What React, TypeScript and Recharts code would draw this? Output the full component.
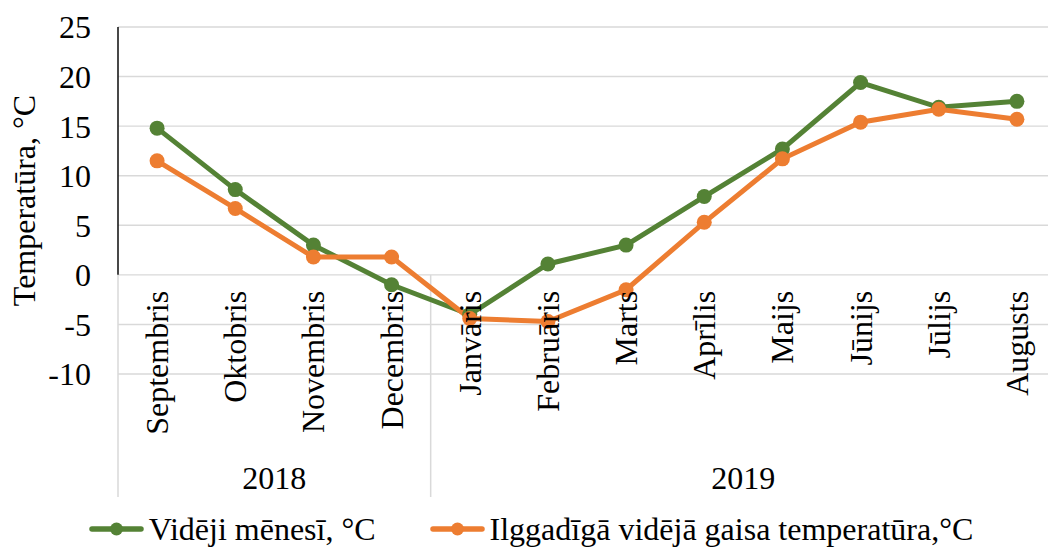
import React from 'react';
import { LineChart, Line, XAxis, YAxis, CartesianGrid } from 'recharts';

const months = [
  'Septembris', 'Oktobris', 'Novembris', 'Decembris', 'Janvāris', 'Februāris',
  'Marts', 'Aprīlis', 'Maijs', 'Jūnijs', 'Jūlijs', 'Augusts',
];
const monthlyAvg = [14.8, 8.6, 3.0, -1.0, -4.0, 1.1, 3.0, 7.9, 12.7, 19.4, 16.9, 17.5];
const longTermAvg = [11.5, 6.7, 1.8, 1.8, -4.4, -4.7, -1.5, 5.3, 11.7, 15.4, 16.7, 15.7];
const years = [
  { label: '2018', count: 4 },
  { label: '2019', count: 8 },
];
const yTicks = [-10, -5, 0, 5, 10, 15, 20, 25];

const seriesNames = ['Vidēji mēnesī, °C', 'Ilggadīgā vidējā gaisa temperatūra,°C'];
const yTitle = 'Temperatūra, °C';

const data = months.map((m, i) => ({ month: m, avg: monthlyAvg[i], norm: longTermAvg[i] }));

const FONT = '"Liberation Serif", "Times New Roman", serif';
const FS = 32;
const GREEN = '#548235';
const ORANGE = '#ED7D31';
const GRID = '#d9d9d9';

const W = 1060;
const H = 547;
const TOP = 27;
const LEFT = 118;
const RIGHT = 4;
const XAXIS_H = 173;
const plotW = W - LEFT - RIGHT;
const plotH = H - TOP - XAXIS_H;
const yMin = yTicks[0];
const yMax = yTicks[yTicks.length - 1];
const yPos = (v: number) => TOP + ((yMax - v) / (yMax - yMin)) * plotH;
const band = plotW / months.length;
const zeroY = yPos(0);
const groupBottom = 497;

const MonthTick = (props: any) => {
  const { x, payload } = props;
  const y = zeroY + 16;
  return (
    <text
      x={x}
      y={y}
      transform={`rotate(-90 ${x} ${y})`}
      textAnchor="end"
      dominantBaseline="central"
      fontFamily={FONT}
      fontSize={FS}
      fill="#000"
    >
      {payload.value}
    </text>
  );
};

const makeDot = (color: string) => (p: any) => (
  <circle key={`${color}-${p.index}`} cx={p.cx} cy={p.cy} r={7.5} fill={color} />
);

function Overlay() {
  let acc = 0;
  const groups = years.map((g) => {
    const x0 = LEFT + acc * band;
    acc += g.count;
    const x1 = LEFT + acc * band;
    return { ...g, x0, x1 };
  });
  const midY = TOP + plotH / 2;
  return (
    <svg width={W} height={H} style={{ position: 'absolute', left: 0, top: 0 }}>
      <line x1={LEFT} x2={LEFT} y1={zeroY} y2={groupBottom} stroke={GRID} strokeWidth={1.5} />
      {groups.map((g) => (
        <g key={g.label}>
          <line x1={g.x1} x2={g.x1} y1={zeroY} y2={groupBottom} stroke={GRID} strokeWidth={1.5} />
          <text
            x={(g.x0 + g.x1) / 2}
            y={489}
            textAnchor="middle"
            fontFamily={FONT}
            fontSize={FS}
            fill="#000"
          >
            {g.label}
          </text>
        </g>
      ))}
      <text
        x={24}
        y={midY}
        transform={`rotate(-90 24 ${midY})`}
        textAnchor="middle"
        dominantBaseline="central"
        fontFamily={FONT}
        fontSize={FS}
        fill="#000"
      >
        {yTitle}
      </text>
    </svg>
  );
}

function LegendIcon({ color }: { color: string }) {
  return (
    <svg width={55} height={16} style={{ display: 'block' }}>
      <line x1={3} x2={52} y1={8} y2={8} stroke={color} strokeWidth={5.5} strokeLinecap="round" />
      <circle cx={27.5} cy={8} r={6.5} fill={color} />
    </svg>
  );
}

export default function App() {
  const colors = [GREEN, ORANGE];
  return (
    <div
      style={{
        position: 'absolute',
        left: 0,
        top: 0,
        width: 1048,
        height: 547,
        overflow: 'hidden',
        background: '#fff',
      }}
    >
      <Overlay />
      <div style={{ position: 'absolute', left: 0, top: 0 }}>
        <LineChart width={W} height={H} data={data} margin={{ top: TOP, right: RIGHT, left: 0, bottom: 0 }}>
          <CartesianGrid horizontal vertical={false} stroke={GRID} strokeWidth={1.4} />
          <XAxis
            dataKey="month"
            scale="band"
            height={XAXIS_H}
            axisLine={false}
            tickLine={false}
            interval={0}
            tick={<MonthTick />}
          />
          <YAxis
            width={LEFT}
            domain={[yMin, yMax]}
            ticks={yTicks}
            interval={0}
            axisLine={false}
            tickLine={false}
            tickMargin={21}
            tick={{ fontFamily: FONT, fontSize: FS, fill: '#000' }}
          />
          <Line
            dataKey="avg"
            name={seriesNames[0]}
            stroke={GREEN}
            strokeWidth={5}
            dot={makeDot(GREEN)}
            isAnimationActive={false}
          />
          <Line
            dataKey="norm"
            name={seriesNames[1]}
            stroke={ORANGE}
            strokeWidth={5}
            dot={makeDot(ORANGE)}
            isAnimationActive={false}
          />
        </LineChart>
      </div>
      <svg width={W} height={H} style={{ position: 'absolute', left: 0, top: 0, pointerEvents: 'none' }}>
        <line x1={LEFT} x2={LEFT} y1={yPos(yMax)} y2={zeroY} stroke="#1a1a1a" strokeWidth={1.6} />
      </svg>
      <div
        style={{
          position: 'absolute',
          left: 0,
          top: 512,
          width: 1062,
          display: 'flex',
          justifyContent: 'center',
          gap: 54,
          fontFamily: FONT,
          fontSize: FS,
          lineHeight: '34px',
          color: '#000',
        }}
      >
        {seriesNames.map((n, i) => (
          <div key={n} style={{ display: 'flex', alignItems: 'center', gap: 5 }}>
            <LegendIcon color={colors[i]} />
            <span>{n}</span>
          </div>
        ))}
      </div>
    </div>
  );
}
